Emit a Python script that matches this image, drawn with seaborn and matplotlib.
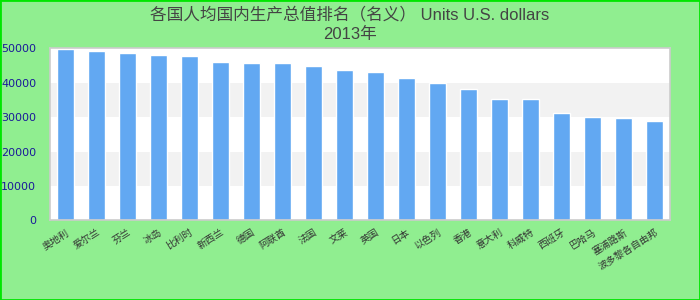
import matplotlib
matplotlib.use("Agg")
import matplotlib.pyplot as plt
import seaborn as sns
import pandas as pd
from matplotlib.patches import Rectangle

title_line1 = "各国人均国内生产总值排名（名义） Units U.S. dollars"
title_line2 = "2013年"

countries = ["奥地利", "爱尔兰", "芬兰", "冰岛", "比利时", "新西兰", "德国", "阿联酋",
             "法国", "文莱", "英国", "日本", "以色列", "香港", "意大利", "科威特",
             "西班牙", "巴哈马", "塞浦路斯", "波多黎各自由邦"]
values = [49800, 49200, 48600, 48050, 47750, 46000, 45700, 45700,
          44850, 43700, 43100, 41350, 39900, 38150, 35250, 35250,
          31200, 30050, 29750, 28850]
y_ticks = [0, 10000, 20000, 30000, 40000, 50000]

df = pd.DataFrame({"country": countries, "value": values})

sns.set_theme(style="white")
plt.rcParams["font.family"] = ["DejaVu Sans", "Noto Sans CJK SC"]

fig = plt.figure(figsize=(7, 3), dpi=100, facecolor="#90ee90")
ax = fig.add_axes([50 / 700, 1 - 220.3 / 300, 620 / 700, 172 / 300])
ax.set_facecolor("white")

for lo in (10000, 30000):
    ax.axhspan(lo, lo + 10000, color="#f2f2f2", zorder=0, lw=0)

sns.barplot(data=df, x="country", y="value", color="#62a8f2", saturation=1,
            width=0.55, ax=ax, zorder=2)

ax.set_ylim(0, 50000)
ax.set_xlim(-0.5, len(countries) - 0.5)
ax.set_yticks(y_ticks)
ax.set_yticklabels([str(t) for t in y_ticks], fontsize=8, color="#1a1a99",
                   family="DejaVu Sans")
ax.set_xlabel("")
ax.set_ylabel("")
ax.tick_params(axis="both", length=0)
ax.tick_params(axis="y", pad=10)
ax.tick_params(axis="x", pad=5)
for lab in ax.get_xticklabels():
    lab.set_rotation(32)
    lab.set_ha("right")
    lab.set_va("top")
    lab.set_rotation_mode("anchor")
    lab.set_fontsize(7)
    lab.set_color("#333333")
    lab.set_family(["Noto Sans CJK SC", "DejaVu Sans"])

for s in ax.spines.values():
    s.set_color("#cccccc")
    s.set_linewidth(1.2)

fig.text(0.5, 1 - 14 / 300, title_line1, ha="center", va="center", fontsize=12,
         color="#444444", family=["Liberation Sans", "Noto Sans CJK SC"])
fig.text(0.5, 1 - 34 / 300, title_line2, ha="center", va="center", fontsize=12,
         color="#444444", family=["Liberation Sans", "Noto Sans CJK SC"])

fig.patches.append(Rectangle((0, 0), 1, 1, transform=fig.transFigure, fill=False,
                             edgecolor="#00e600", lw=2))

fig.savefig("out.png", dpi=100, facecolor=fig.get_facecolor())
